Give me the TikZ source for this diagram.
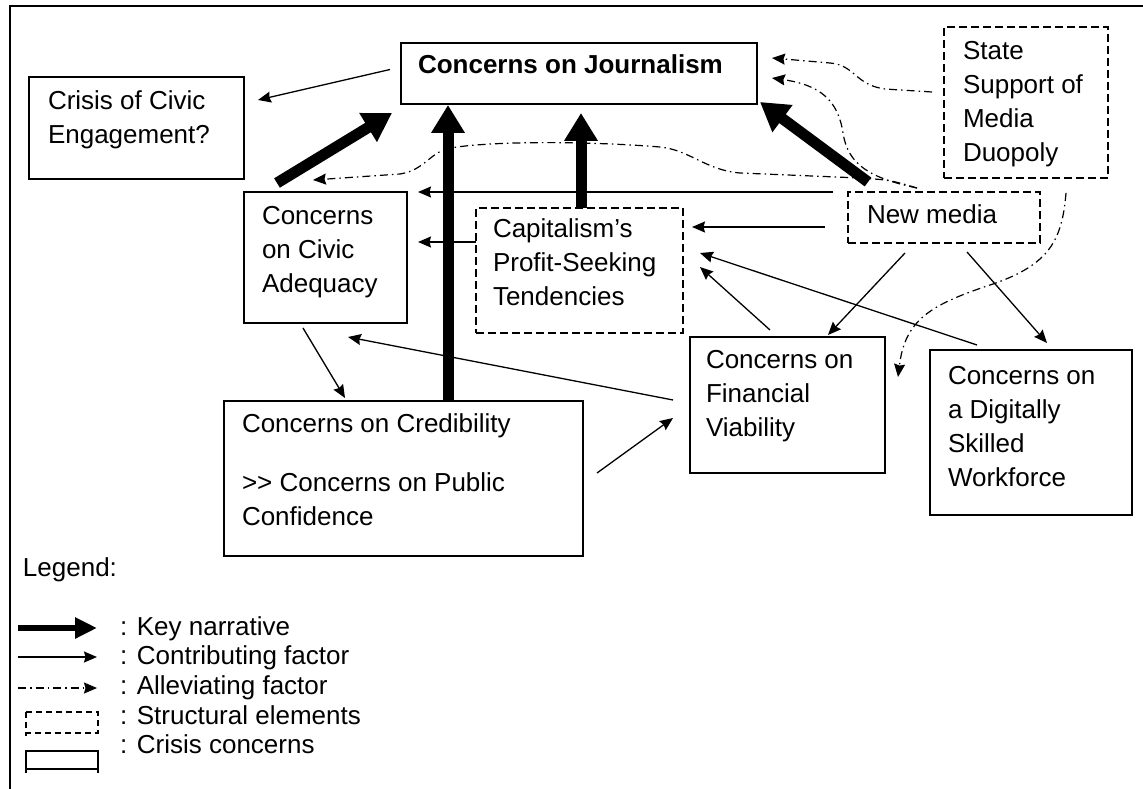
\documentclass[tikz,border=0pt]{standalone}
\usepackage{fontspec}
\setmainfont{Liberation Sans}
\usetikzlibrary{arrows.meta,calc}
\tikzset{
  boxbase/.style={anchor=north west, inner sep=0pt, outer sep=0pt, line width=1.4pt},
  crisisbox/.style={boxbase, draw},
  structbox/.style={boxbase, draw, dash pattern=on 8pt off 4pt},
  txt/.style={anchor=base west, align=left, inner sep=0pt, outer sep=0pt},
  keyarrow/.style={line width=11pt, -{Triangle[length=28pt,width=32pt]}},
  contrib/.style={line width=1.3pt, -{Stealth[length=13pt,width=11pt,inset=1.5pt]}},
  allev/.style={line width=1.2pt, dash pattern=on 8pt off 4pt on 1.5pt off 4pt,
                -{Stealth[length=13pt,width=11pt,inset=1.5pt]}},
}
\begin{document}
\begin{tikzpicture}[x=1pt,y=-1pt,font=\fontsize{26}{34}\selectfont]
\useasboundingbox (0,0) rectangle (1143,789);
% outer frame (cropped)
\draw[line width=1.5pt] (10,789) -- (10,6) -- (1143,6);

% boxes
\node[crisisbox, minimum width=356pt, minimum height=61pt]  (journ)   at (401,43)  {};
\node[crisisbox, minimum width=215pt, minimum height=102pt] (crisis)  at (29,77)   {};
\node[structbox, minimum width=164pt, minimum height=151pt] (state)   at (944,27)  {};
\node[crisisbox, minimum width=163pt, minimum height=131pt] (civic)   at (244,192) {};
\node[structbox, minimum width=207pt, minimum height=125pt] (capital) at (476,208) {};
\node[structbox, minimum width=192pt, minimum height=51pt]  (newmed)  at (848,192) {};
\node[crisisbox, minimum width=195pt, minimum height=136pt] (finan)   at (690,337) {};
\node[crisisbox, minimum width=202pt, minimum height=165pt] (digit)   at (930,350) {};
\node[crisisbox, minimum width=359pt, minimum height=155pt] (cred)    at (224,401) {};

% texts (anchor = baseline of the last line)
\node[txt] (tjourn) at (418,74) {\bfseries Concerns on Journalism};
\node[txt] (tcrisis) at (48,144) {Crisis of Civic\\Engagement?};
\node[txt] (tstate) at (963,161) {State\\Support of\\Media\\Duopoly};
\node[txt] (tcivic) at (262,292) {Concerns\\on Civic\\Adequacy};
\node[txt] (tcapital) at (493,305) {Capitalism's\\Profit-Seeking\\Tendencies};
\node[txt] (tnewmed) at (867,223) {New media};
\node[txt] (tfinan) at (706,436) {Concerns on\\Financial\\Viability};
\node[txt] (tdigit) at (948,486) {Concerns on\\a Digitally\\Skilled\\Workforce};
\node[txt] (tcred) at (242,525) {Concerns on Credibility\\[25pt]>{}> Concerns on Public\\Confidence};

% key narrative arrows
\draw[keyarrow] ($(civic.north west)+(33,-9)$) -- ($(journ.south west)+(-9,9)$);
\draw[keyarrow] ($(cred.north west)+(224,0)$) -- ($(journ.south west)+(47,1)$);
\draw[keyarrow] ($(capital.north west)+(105,0)$) -- ($(journ.south west)+(180,9)$);
\draw[keyarrow] ($(newmed.north west)+(20,-10)$) -- ($(journ.south east)+(3,-2)$);

% contributing factors
\draw[contrib] ($(journ.west)+(-11,-4)$) -- ($(crisis.north east)+(14,23)$);
\draw[contrib] ($(newmed.north west)+(-15,0)$) -- ($(civic.north east)+(11,0)$);
\draw[contrib] ($(newmed.north west)+(-23,35)$) -- ($(capital.north east)+(9,19)$);
\draw[contrib] ($(capital.north west)+(0,34)$) -- ($(civic.north east)+(11,50)$);
\draw[contrib] ($(newmed.south west)+(57,10)$) -- ($(finan.north west)+(138,-2)$);
\draw[contrib] ($(newmed.south west)+(119,9)$) -- ($(digit.north west)+(117,-7)$);
\draw[contrib] ($(digit.north west)+(47,-5)$) -- ($(capital.north east)+(17,45)$);
\draw[contrib] ($(finan.north west)+(80,-7)$) -- ($(capital.north east)+(17,59)$);
\draw[contrib] ($(finan.north west)+(-17,63)$) -- ($(civic.south west)+(104,14)$);
\draw[contrib] ($(cred.north east)+(14,72)$) -- ($(finan.north west)+(-17,81)$);
\draw[contrib] ($(civic.south west)+(59,5)$) -- ($(cred.north west)+(121,-3)$);

% alleviating factors
\draw[allev] ($(state.north west)+(-12,65)$) -- (885,89)
   .. controls (855,85) and (855,65) .. (830,63) -- ($(journ.north east)+(15,15)$);
\draw[allev] ($(newmed.north west)+(69,-4)$) .. controls (870,178) and (848,165) .. (843,133)
   .. controls (838,100) and (820,85) .. ($(journ.north east)+(15,35)$);
\draw[allev] ($(newmed.north west)+(69,-4)$) .. controls (890,180) .. (860,178) -- (740,173)
   .. controls (705,170) and (690,150) .. (660,147)
   .. controls (600,142) and (500,140) .. (450,148)
   .. controls (430,152) and (425,170) .. (400,174) -- ($(civic.north west)+(69,-12)$);
\draw[allev] ($(state.south east)+(-42,15)$) .. controls (1062,240) and (1050,265) .. (990,285)
   .. controls (930,305) and (905,320) .. ($(finan.north east)+(13,40)$);

% legend
\node[txt] (legend) at (23,576) {Legend:};
\draw[line width=6pt, -{Triangle[length=22pt,width=20pt]}] (18,628) -- (97,628);
\draw[contrib] (18,657) -- (97,657);
\draw[allev] (18,688) -- (97,688);
\draw[line width=1.2pt, dash pattern=on 6pt off 4pt] (26,712) rectangle (98,733);
\draw[line width=1.2pt] (26,733) -- (26,736);
\draw[line width=1.4pt] (26,751) rectangle (98,769);
\draw[line width=1.4pt] (26,769) -- (26,773) (98,769) -- (98,773);
\node[txt] (lkey) at (120,635) {: Key narrative};
\node[txt] (lcon) at (120,664) {: Contributing factor};
\node[txt] (lall) at (120,694) {: Alleviating factor};
\node[txt] (lstr) at (120,724) {: Structural elements};
\node[txt] (lcri) at (120,753) {: Crisis concerns};
\end{tikzpicture}
\end{document}
